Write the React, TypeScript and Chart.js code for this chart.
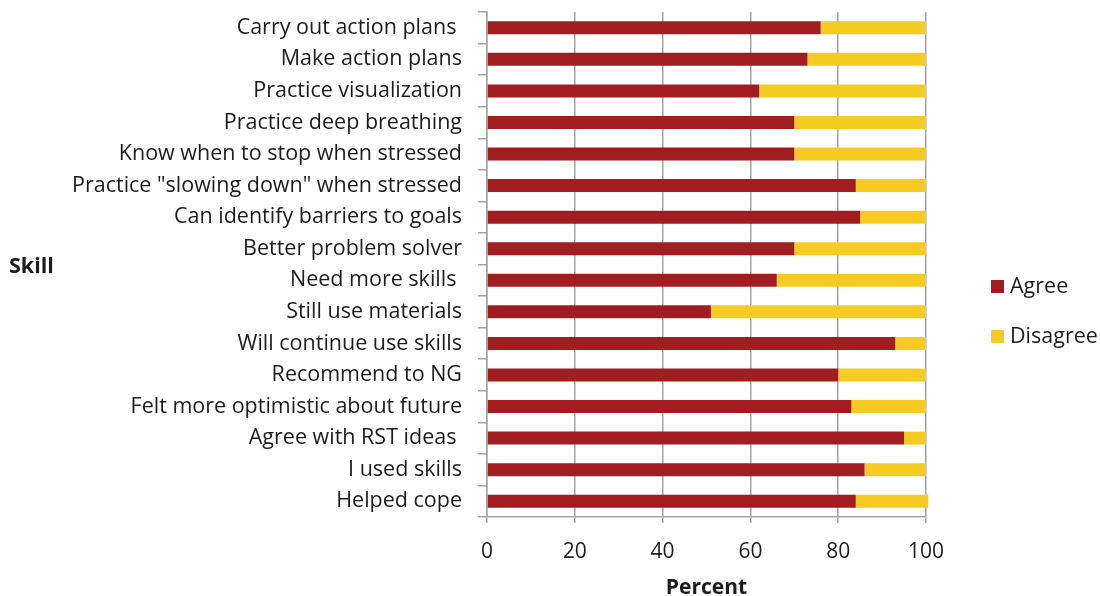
import React, { useEffect, useRef } from "react";
import { Chart, registerables } from "chart.js";

Chart.register(...registerables);

const categories = [
  "Carry out action plans ",
  "Make action plans",
  "Practice visualization",
  "Practice deep breathing",
  "Know when to stop when stressed",
  "Practice \"slowing down\" when stressed",
  "Can identify barriers to goals",
  "Better problem solver",
  "Need more skills ",
  "Still use materials",
  "Will continue use skills",
  "Recommend to NG",
  "Felt more optimistic about future",
  "Agree with RST ideas ",
  "I used skills",
  "Helped cope",
];
const agree = [76, 73, 62, 70, 70, 84, 85, 70, 66, 51, 93, 80, 83, 95, 86, 84];
const disagree = [24, 27, 38, 30, 30, 16, 15, 30, 34, 49, 7, 20, 17, 5, 14, 16.5];
const seriesNames = ["Agree", "Disagree"];
const xMin = 0;
const xMax = 100;
const xStep = 20;
const xTitle = "Percent";
const yTitle = "Skill";

const RED = "#A11D21";
const YELLOW = "#F6CB22";
const GRID = "#a3a3a3";
const TEXT = "#1c1c1c";
const FONT = "'Open Sans'";

const overlay = {
  id: "overlay",
  afterDraw(chart: any) {
    const ctx = chart.ctx;
    ctx.save();
    ctx.textBaseline = "middle";
    ctx.textAlign = "left";
    ctx.fillStyle = TEXT;
    ctx.font = `bold 21.5px ${FONT}`;
    ctx.fillText(yTitle, 9, 267);
    ctx.font = `21.5px ${FONT}`;
    chart.data.datasets.forEach((ds: any, i: number) => {
      const y = 287 + i * 50;
      ctx.fillStyle = ds.backgroundColor;
      ctx.fillRect(991, y - 7, 13, 13);
      ctx.fillStyle = TEXT;
      ctx.fillText(ds.label, 1010, y);
    });
    ctx.restore();
  },
};

export default function App() {
  const ref = useRef<HTMLCanvasElement | null>(null);
  useEffect(() => {
    if (!ref.current) return;
    const chart = new Chart(ref.current, {
      type: "bar",
      data: {
        labels: categories,
        datasets: [
          {
            label: seriesNames[0],
            data: agree,
            backgroundColor: RED,
            barPercentage: 0.41,
            categoryPercentage: 1,
          },
          {
            label: seriesNames[1],
            data: disagree,
            backgroundColor: YELLOW,
            barPercentage: 0.41,
            categoryPercentage: 1,
            clip: false as any,
          },
        ],
      },
      options: {
        indexAxis: "y",
        animation: false,
        responsive: true,
        maintainAspectRatio: false,
        layout: { padding: { top: 12, right: 174, bottom: 0, left: 0 } },
        plugins: {
          legend: { display: false },
          tooltip: { enabled: false },
        },
        scales: {
          x: {
            stacked: true,
            min: xMin,
            max: xMax,
            ticks: {
              stepSize: xStep,
              color: TEXT,
              font: { family: FONT, size: 21 },
              padding: 16,
            },
            grid: {
              color: GRID,
              lineWidth: 1.5,
              tickLength: 6,
              drawTicks: true,
            },
            border: { color: GRID, width: 1.5 },
            title: {
              display: true,
              text: xTitle,
              color: TEXT,
              font: { family: FONT, size: 21, weight: "bold", lineHeight: 0.8 },
              padding: { top: 0, bottom: 0 },
            },
            afterFit(scale: any) {
              scale.height = 79;
            },
          },
          y: {
            stacked: true,
            ticks: {
              color: TEXT,
              font: { family: FONT, size: 21.5 },
              padding: 16,
            },
            grid: {
              offset: true,
              drawOnChartArea: false,
              color: GRID,
              lineWidth: 1.5,
              tickLength: 9,
            },
            border: { color: GRID, width: 1.5 },
            afterFit(scale: any) {
              scale.width = 487;
              scale.paddingTop = 0;
              scale.paddingBottom = 0;
            },
          },
        },
      },
      plugins: [overlay],
    });
    return () => chart.destroy();
  }, []);
  return (
    <div style={{ position: "absolute", left: 0, top: 0, width: 1100, height: 596, background: "#fff" }}>
      <canvas ref={ref} />
    </div>
  );
}
